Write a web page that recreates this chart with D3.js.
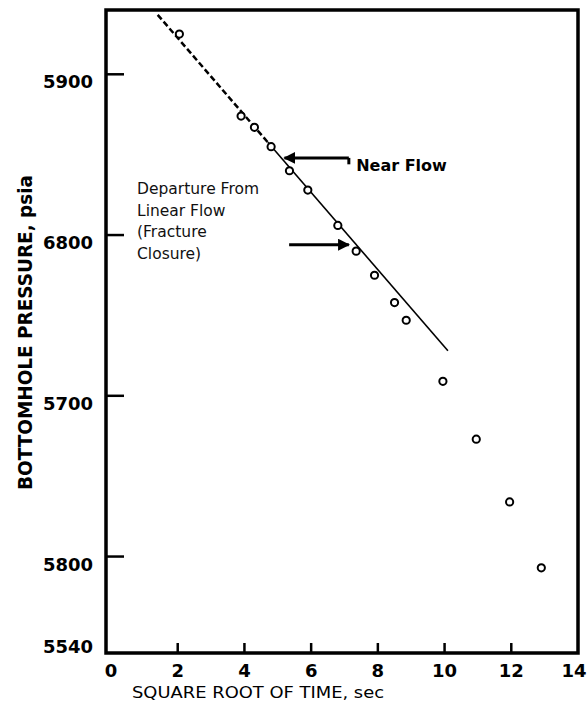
<!DOCTYPE html>
<html>
<head>
<meta charset="utf-8">
<script src="https://cdn.jsdelivr.net/npm/d3@7"></script>
<style>
  body { margin: 0; background: #fff; }
  svg { display: block; }
  .tick-label { font-family: "DejaVu Sans", sans-serif; font-weight: bold; font-size: 18px; fill: #000; }
  .note { font-family: "DejaVu Sans", sans-serif; font-size: 15.5px; fill: #111; }
</style>
</head>
<body>
<div id="vis"></div>
<script>
// square root of time (sec) and bottomhole pressure (psia)
var sqrtTime = [2.05, 3.9, 4.3, 4.8, 5.35, 5.9, 6.8, 7.35, 7.9, 8.5, 8.85, 9.95, 10.95, 11.95, 12.9];
var pressure = [5925, 5874, 5867, 5855, 5840, 5828, 5806, 5790, 5775, 5758, 5747, 5709, 5673, 5634, 5593];

// straight line drawn through the early points
var trendTime = [1.4, 10.1];
var trendPressure = [5937, 5728];
var dashedUntil = 4.7;

// axis ticks (labels as printed on the scan)
var xTicks = [0, 2, 4, 6, 8, 10, 12, 14];
var yTicks = [5900, 5800, 5700, 5600, 5540];
var yTickLabels = ["5900", "6800", "5700", "5800", "5540"];

var departureLines = ["Departure From", "Linear Flow", "(Fracture", "Closure)"];

var width = 587;
var height = 709;
var margin = {top: 10, left: 106, bottom: 56, right: 9};

var svg = d3.select("#vis").append("svg")
  .attr("width", width)
  .attr("height", height);

var x = d3.scaleLinear()
  .domain([-0.15, 14])
  .range([margin.left, width - margin.right]);

var y = d3.scaleLinear()
  .domain([5540, 5940])
  .range([height - margin.bottom, margin.top]);

var g = svg.append("g");

// frame
g.append("rect")
  .attr("x", x(-0.15))
  .attr("y", y(5940))
  .attr("width", x(14) - x(-0.15))
  .attr("height", y(5540) - y(5940))
  .attr("fill", "none")
  .attr("stroke", "#000")
  .attr("stroke-width", 3.5);

// x ticks point up into the plot
g.selectAll(".xtick")
  .data(xTicks.filter(function(d) { return d > 0 && d < 14; }))
  .enter().append("line")
  .attr("class", "xtick")
  .attr("x1", function(d) { return x(d); })
  .attr("x2", function(d) { return x(d); })
  .attr("y1", y(5540))
  .attr("y2", y(5540) - 10)
  .attr("stroke", "#000")
  .attr("stroke-width", 2.5);

g.selectAll(".xlabel")
  .data(xTicks)
  .enter().append("text")
  .attr("class", "tick-label")
  .attr("x", function(d) { return x(d) + (d === 14 ? -4 : 0); })
  .attr("y", y(5540) + 24)
  .attr("text-anchor", "middle")
  .text(function(d) { return d; });

// y ticks point right into the plot
g.selectAll(".ytick")
  .data(yTicks.filter(function(d) { return d > 5540; }))
  .enter().append("line")
  .attr("class", "ytick")
  .attr("x1", x(-0.15))
  .attr("x2", x(-0.15) + 18)
  .attr("y1", function(d) { return y(d); })
  .attr("y2", function(d) { return y(d); })
  .attr("stroke", "#000")
  .attr("stroke-width", 2.5);

g.selectAll(".ylabel")
  .data(yTicks)
  .enter().append("text")
  .attr("class", "tick-label")
  .attr("x", x(-0.15) - 13)
  .attr("y", function(d) { return y(d) + (d === 5540 ? 0 : 14); })
  .attr("text-anchor", "end")
  .text(function(d, i) { return yTickLabels[i]; });

// axis titles
g.append("text")
  .attr("x", 132)
  .attr("y", y(5540) + 45)
  .attr("font-family", "DejaVu Sans, sans-serif")
  .attr("font-size", 15)
  .attr("textLength", 252)
  .attr("lengthAdjust", "spacingAndGlyphs")
  .text("SQUARE ROOT OF TIME, sec");

g.append("text")
  .attr("transform", "translate(32," + 490 + ") rotate(-90)")
  .attr("font-family", "DejaVu Sans, sans-serif")
  .attr("font-weight", "bold")
  .attr("font-size", 20)
  .attr("textLength", 315)
  .attr("lengthAdjust", "spacingAndGlyphs")
  .text("BOTTOMHOLE PRESSURE, psia");

// trend line: dashed part then solid part
var trend = d3.scaleLinear().domain(trendTime).range(trendPressure);

g.append("line")
  .attr("x1", x(trendTime[0]))
  .attr("y1", y(trendPressure[0]))
  .attr("x2", x(dashedUntil))
  .attr("y2", y(trend(dashedUntil)))
  .attr("stroke", "#000")
  .attr("stroke-width", 2.5)
  .attr("stroke-dasharray", "6,3");

g.append("line")
  .attr("x1", x(dashedUntil))
  .attr("y1", y(trend(dashedUntil)))
  .attr("x2", x(trendTime[1]))
  .attr("y2", y(trendPressure[1]))
  .attr("stroke", "#000")
  .attr("stroke-width", 1.6);

// data points
g.selectAll(".pt")
  .data(sqrtTime)
  .enter().append("circle")
  .attr("class", "pt")
  .attr("cx", function(d) { return x(d); })
  .attr("cy", function(d, i) { return y(pressure[i]); })
  .attr("r", 3.6)
  .attr("fill", "#fff")
  .attr("stroke", "#000")
  .attr("stroke-width", 2);

// arrowheads
var defs = svg.append("defs");
defs.append("marker")
  .attr("id", "arrow")
  .attr("viewBox", "0 0 10 10")
  .attr("refX", 9)
  .attr("refY", 5)
  .attr("markerWidth", 4)
  .attr("markerHeight", 4)
  .attr("orient", "auto")
  .append("path")
  .attr("d", "M0,0 L10,5 L0,10 z")
  .attr("fill", "#000");

// "Near Flow" arrow pointing left at the line
g.append("line")
  .attr("x1", x(7.13))
  .attr("y1", y(5848))
  .attr("x2", x(5.2))
  .attr("y2", y(5848))
  .attr("stroke", "#000")
  .attr("stroke-width", 3)
  .attr("marker-end", "url(#arrow)");

g.append("line")
  .attr("x1", x(7.13))
  .attr("y1", y(5848))
  .attr("x2", x(7.13))
  .attr("y2", y(5844))
  .attr("stroke", "#000")
  .attr("stroke-width", 3);

g.append("text")
  .attr("x", x(7.35))
  .attr("y", y(5840))
  .attr("font-family", "DejaVu Sans, sans-serif")
  .attr("font-weight", "bold")
  .attr("font-size", 16)
  .text("Near Flow");

// departure note and its arrow
g.selectAll(".note")
  .data(departureLines)
  .enter().append("text")
  .attr("class", "note")
  .attr("x", x(0.78))
  .attr("y", function(d, i) { return 194 + i * 21.7; })
  .text(function(d) { return d; });

g.append("line")
  .attr("x1", x(5.34))
  .attr("y1", y(5794))
  .attr("x2", x(7.13))
  .attr("y2", y(5794))
  .attr("stroke", "#000")
  .attr("stroke-width", 3)
  .attr("marker-end", "url(#arrow)");
</script>
</body>
</html>
